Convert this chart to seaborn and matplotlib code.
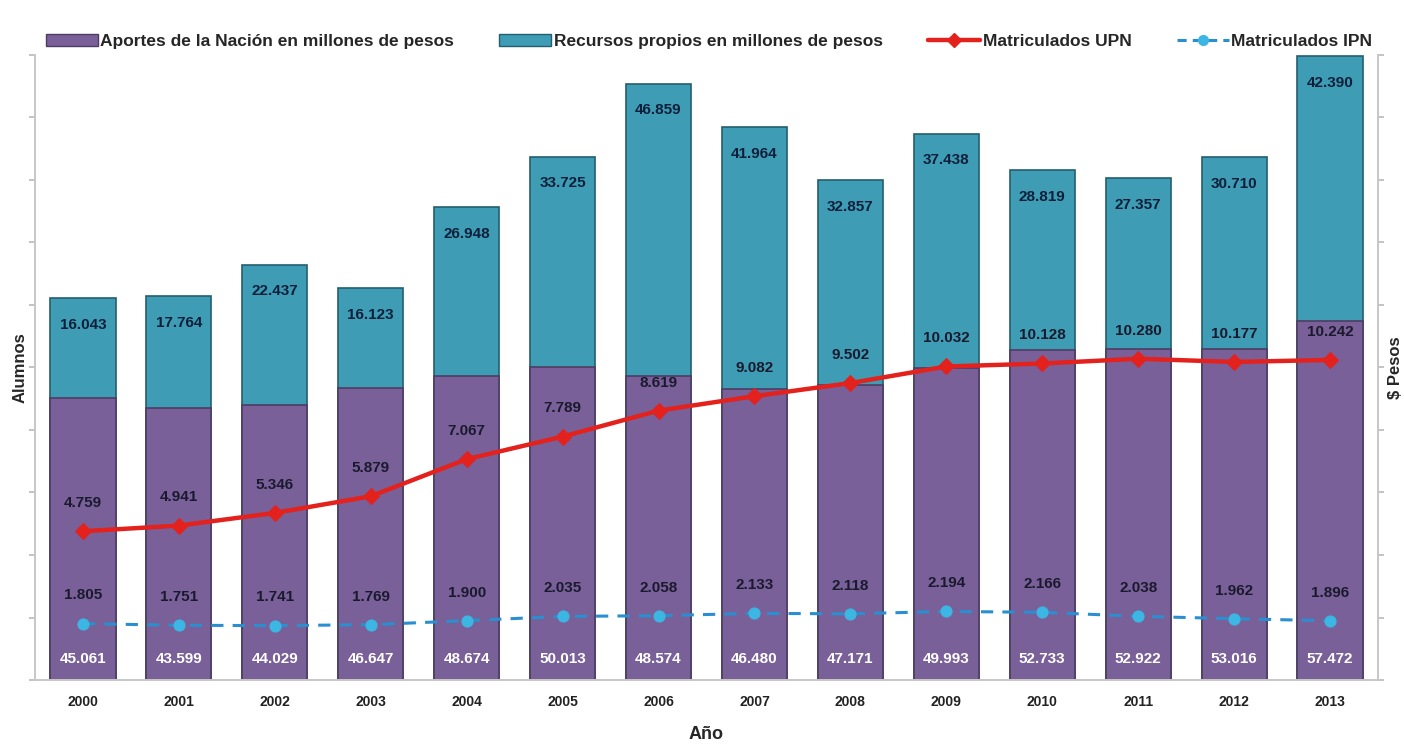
import numpy as np
import pandas as pd
import matplotlib
matplotlib.use("Agg")
import matplotlib.pyplot as plt
import seaborn as sns
from matplotlib.patches import Patch
from matplotlib.lines import Line2D

years = ["2000", "2001", "2002", "2003", "2004", "2005", "2006",
         "2007", "2008", "2009", "2010", "2011", "2012", "2013"]
aportes = [45061, 43599, 44029, 46647, 48674, 50013, 48574,
           46480, 47171, 49993, 52733, 52922, 53016, 57472]
recursos = [16043, 17764, 22437, 16123, 26948, 33725, 46859,
            41964, 32857, 37438, 28819, 27357, 30710, 42390]
upn = [4759, 4941, 5346, 5879, 7067, 7789, 8619,
       9082, 9502, 10032, 10128, 10280, 10177, 10242]
ipn = [1805, 1751, 1741, 1769, 1900, 2035, 2058,
       2133, 2118, 2194, 2166, 2038, 1962, 1896]

sns.set_theme(style="white")
plt.rcParams["font.family"] = ["Liberation Sans", "DejaVu Sans"]

PURPLE = "#7a6098"
TEAL = "#3e9cb5"
RED = "#e3211d"
BLUE = "#2a8fd0"
LBLUE = "#3cb6e3"

def fmt(v):
    return f"{v:,.0f}".replace(",", ".")

df = pd.DataFrame({"year": years, "aportes": aportes, "recursos": recursos})
df["total"] = df["aportes"] + df["recursos"]

fig = plt.figure(figsize=(14.04, 7.48), dpi=100)
ax = fig.add_axes([0.0249, 0.0909, 0.9566, 0.8356])

sns.barplot(data=df, x="year", y="total", color=TEAL, saturation=1,
            width=0.68, edgecolor="#235f6e", linewidth=1.2, ax=ax)
sns.barplot(data=df, x="year", y="aportes", color=PURPLE, saturation=1,
            width=0.68, edgecolor="#4d3d63", linewidth=1.2, ax=ax)

ax.set_ylim(0, 100000)
ax.set_xlim(-0.5, len(years) - 0.5)
ax.set_yticks(np.arange(0, 100001, 10000))
ax.set_yticklabels([])
ax.tick_params(axis="y", length=4, color="#bbbbbb", direction="out", left=True)
ax.tick_params(axis="x", length=0, labelsize=10, pad=11)
for lbl in ax.get_xticklabels():
    lbl.set_fontweight("bold")
    lbl.set_color("#222222")
ax.set_xlabel("Año", fontsize=13, fontweight="bold", labelpad=12)
ax.set_ylabel("Alumnos", fontsize=12, fontweight="bold", labelpad=-2)
for s in ["left", "right", "bottom"]:
    ax.spines[s].set_color("#c8c8c8")
ax.spines["top"].set_visible(False)

for i in range(len(years)):
    ax.text(i, 3300, fmt(aportes[i]), ha="center", va="center",
            color="white", fontsize=11, fontweight="bold")
    ax.text(i, df["total"][i] - 4300, fmt(recursos[i]), ha="center", va="center",
            color="#0d1f3a", fontsize=11, fontweight="bold")

ax2 = ax.twinx()
x = np.arange(len(years))
sns.lineplot(x=x, y=upn, ax=ax2, color=RED, linewidth=3.2, marker="D",
             markersize=8, markerfacecolor=RED, markeredgecolor=RED)
sns.lineplot(x=x, y=ipn, ax=ax2, color=BLUE, linewidth=2.2, linestyle=(0, (4, 3)),
             marker="o", markersize=8, markerfacecolor=LBLUE, markeredgecolor=LBLUE)
ax2.set_ylim(0, 20000)
ax2.set_yticks(np.arange(0, 20001, 2000))
ax2.set_yticklabels([])
ax2.tick_params(axis="y", length=4, color="#bbbbbb", direction="out", right=True)
ax2.set_ylabel("$ Pesos", fontsize=12, fontweight="bold", labelpad=0, rotation=90)
for s in ["left", "right", "bottom"]:
    ax2.spines[s].set_color("#c8c8c8")
ax2.spines["top"].set_visible(False)
ax2.set_xlim(-0.5, len(years) - 0.5)

for i in range(len(years)):
    ax2.text(i, upn[i] + 900, fmt(upn[i]), ha="center", va="center",
             color="#1a1a2e", fontsize=11, fontweight="bold")
    ax2.text(i, ipn[i] + 900, fmt(ipn[i]), ha="center", va="center",
             color="#1a1a2e", fontsize=11, fontweight="bold")

handles = [
    Patch(facecolor=PURPLE, edgecolor="#4d3d63"),
    Patch(facecolor=TEAL, edgecolor="#235f6e"),
    Line2D([], [], color=RED, lw=3.2, marker="D", markersize=7),
    Line2D([], [], color=BLUE, lw=2.2, linestyle=(0, (3, 2)), marker="o",
           markersize=7, markerfacecolor=LBLUE, markeredgecolor=LBLUE),
]
labels = ["Aportes de la Nación en millones de pesos",
          "Recursos propios en millones de pesos",
          "Matriculados UPN", "Matriculados IPN"]
fig.legend(handles, labels, loc="center", bbox_to_anchor=(0.505, 0.944), ncol=4,
           frameon=False, prop={"weight": "bold", "size": 12.5},
           handlelength=3.0, handletextpad=0.15, columnspacing=2.6)

fig.savefig("out.png", dpi=100)
